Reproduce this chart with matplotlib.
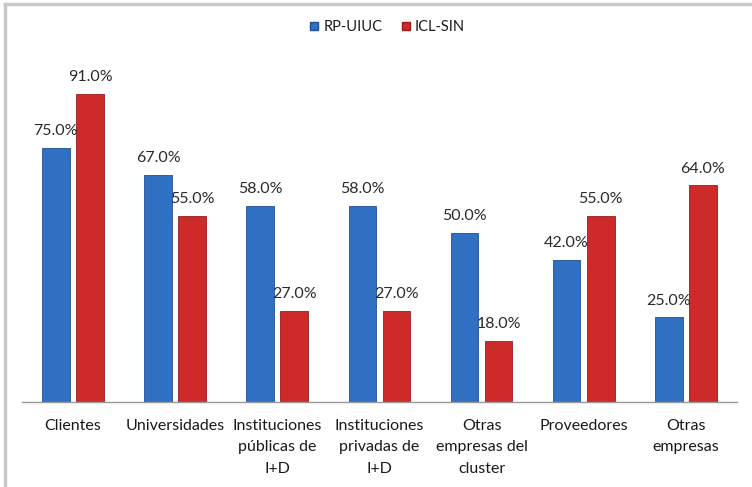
import numpy as np
import matplotlib
matplotlib.use("Agg")
from matplotlib import pyplot as plt
from matplotlib.lines import Line2D

categories = ["Clientes", "Universidades", "Instituciones\npúblicas de\nI+D",
              "Instituciones\nprivadas de\nI+D", "Otras\nempresas del\ncluster",
              "Proveedores", "Otras\nempresas"]
rp_uiuc = [75.0, 67.0, 58.0, 58.0, 50.0, 42.0, 25.0]
icl_sin = [91.0, 55.0, 27.0, 27.0, 18.0, 55.0, 64.0]
series_names = ["RP-UIUC", "ICL-SIN"]

plt.rcParams['font.family'] = ['Lato', 'DejaVu Sans']

fig = plt.figure(figsize=(7.52, 4.87), dpi=100)
ax = fig.add_axes([0.029, 0.1745, 0.951, 0.6955])

x = np.arange(len(categories))
w = 0.27
off = 0.167
b1 = ax.bar(x - off, rp_uiuc, w, color="#3070c2", edgecolor="#1f4f95", linewidth=0.6)
b2 = ax.bar(x + off, icl_sin, w, color="#cf2a2a", edgecolor="#9b1b1b", linewidth=0.6)

for bars, vals in ((b1, rp_uiuc), (b2, icl_sin)):
    for r, v in zip(bars, vals):
        ax.annotate(f"{v:.1f}%", (r.get_x() + r.get_width() / 2, v),
                    xytext=(0, 7), textcoords="offset points",
                    ha="center", va="bottom", fontsize=11.5, color="#2a2a2a")

ax.set_xlim(-0.5, len(categories) - 0.5)
ax.set_ylim(0, 100)
ax.set_yticks([])
ax.set_xticks(x)
ax.set_xticklabels(categories, fontsize=11.5, color="#1a1a1a", linespacing=1.7)
ax.tick_params(axis="x", length=0, pad=12)
for s in ("top", "right", "left"):
    ax.spines[s].set_visible(False)
ax.spines["bottom"].set_color("#9a9a9a")
ax.spines["bottom"].set_linewidth(1.0)

handles = [Line2D([], [], marker="s", linestyle="none", markersize=6,
                  markerfacecolor=c, markeredgecolor=e)
           for c, e in (("#3070c2", "#1f4f95"), ("#cf2a2a", "#9b1b1b"))]
fig.legend(handles, series_names, loc="center", bbox_to_anchor=(0.512, 0.945),
           ncol=2, frameon=False, fontsize=10.5, handletextpad=0.0,
           handlelength=1.2, columnspacing=1.0, labelcolor="#1a1a1a")

# gray frame on left and top edge
fig.add_artist(Line2D([0.006, 0.006], [0.0, 0.991], color="#c8c8c8", lw=2.5,
                      transform=fig.transFigure))
fig.add_artist(Line2D([0.006, 1.0], [0.991, 0.991], color="#c8c8c8", lw=2.5,
                      transform=fig.transFigure))

fig.savefig("out.png", dpi=100)
